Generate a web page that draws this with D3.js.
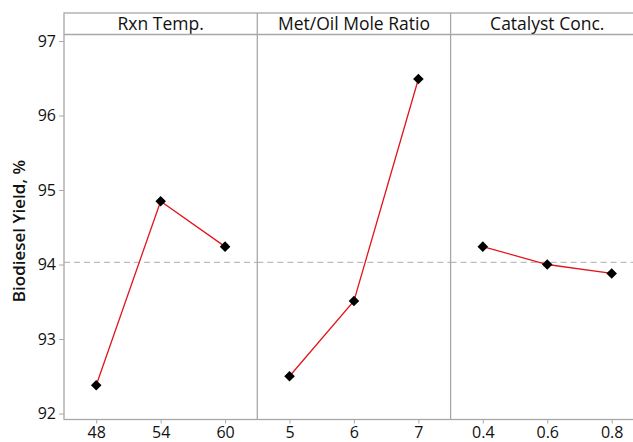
<!DOCTYPE html>
<html>
<head>
<meta charset="utf-8">
<script src="https://cdn.jsdelivr.net/npm/d3@7"></script>
<style>
  body { margin: 0; background: #fff; }
  svg { display: block; overflow: hidden; }
  text { font-family: "Open Sans", "Noto Sans", sans-serif; fill: #111; }
</style>
</head>
<body>
<svg id="chart"></svg>
<script>
const width = 633;
const height = 442;

// factors and their levels
const factors = ["Rxn Temp.", "Met/Oil Mole Ratio", "Catalyst Conc."];
const levels = [
  ["48", "54", "60"],
  ["5", "6", "7"],
  ["0.4", "0.6", "0.8"],
];
// mean biodiesel yield at each level
const yields = [
  [92.38, 94.85, 94.24],
  [92.5, 93.51, 96.49],
  [94.24, 94.0, 93.88],
];
const grandMean = 94.03;
const yTicks = [92, 93, 94, 95, 96, 97];

const margin = { top: 13, left: 64, bottom: 22.5 };
const headerH = 21.5;
const panelW = 193.3;

const svg = d3.select("#chart").attr("width", width).attr("height", height);

const plotTop = margin.top + headerH;
const plotBottom = height - margin.bottom;

const y = d3.scaleLinear().domain([91.92, 97.087]).range([plotBottom, plotTop]);

const frame = "#a8a8a8";

// y axis
const yAxis = d3
  .axisLeft(y)
  .tickValues(yTicks)
  .tickFormat(d3.format("d"))
  .tickSize(5)
  .tickPadding(3);
const yAxisG = svg
  .append("g")
  .attr("transform", `translate(${margin.left},0)`)
  .call(yAxis);
yAxisG.select(".domain").remove();
yAxisG.selectAll("line").attr("stroke", frame);
yAxisG
  .selectAll("text")
  .style("font-size", "16px")
  .style("font-family", '"Open Sans", sans-serif')
  .attr("fill", "#111");

svg
  .append("text")
  .attr("transform", `translate(25,${(plotTop + plotBottom) / 2 + 4}) rotate(-90)`)
  .attr("text-anchor", "middle")
  .style("font-size", "17px")
  .style("font-weight", "600")
  .text("Biodiesel Yield, %");

factors.forEach((name, i) => {
  const x0 = margin.left + i * panelW;
  const x = d3.scalePoint().domain(levels[i]).range([x0, x0 + panelW]).padding(0.5);
  const pts = levels[i].map((l, j) => ({ level: l, value: yields[i][j] }));

  const g = svg.append("g");

  // header text
  g.append("text")
    .attr("x", x0 + panelW / 2)
    .attr("y", margin.top + 17)
    .attr("text-anchor", "middle")
    .style("font-size", "17.5px")
    .text(name);

  // grand mean reference line
  g.append("line")
    .attr("x1", x0)
    .attr("x2", x0 + panelW)
    .attr("y1", y(grandMean))
    .attr("y2", y(grandMean))
    .attr("stroke", "#bdbdbd")
    .attr("stroke-width", 1.3)
    .attr("stroke-dasharray", "6,4");

  // x axis
  const xAxisG = g
    .append("g")
    .attr("transform", `translate(0,${plotBottom})`)
    .call(d3.axisBottom(x).tickSize(4).tickPadding(5));
  xAxisG.select(".domain").remove();
  xAxisG.selectAll("line").attr("stroke", frame);
  xAxisG
    .selectAll("text")
    .style("font-size", "16px")
    .style("font-family", '"Open Sans", sans-serif')
    .attr("dy", "0.62em")
    .attr("fill", "#111");

  g.append("path")
    .datum(pts)
    .attr("fill", "none")
    .attr("stroke", "#e3141b")
    .attr("stroke-width", 1.3)
    .attr("d", d3.line().x((d) => x(d.level)).y((d) => y(d.value)));

  g.selectAll(".pt")
    .data(pts)
    .enter()
    .append("path")
    .attr("class", "pt")
    .attr("d", d3.symbol().type(d3.symbolSquare).size(56))
    .attr("transform", (d) => `translate(${x(d.level)},${y(d.value)}) rotate(45)`)
    .attr("fill", "#000");
});

// frame: outer box, header separator, panel dividers
const frameG = svg.append("g").attr("fill", "none").attr("stroke", frame).attr("stroke-width", 1.3);
frameG
  .append("rect")
  .attr("x", margin.left)
  .attr("y", margin.top)
  .attr("width", panelW * factors.length)
  .attr("height", plotBottom - margin.top);
frameG
  .append("line")
  .attr("x1", margin.left)
  .attr("x2", margin.left + panelW * factors.length)
  .attr("y1", plotTop)
  .attr("y2", plotTop);
frameG
  .selectAll(".divider")
  .data(d3.range(1, factors.length))
  .enter()
  .append("line")
  .attr("x1", (i) => margin.left + i * panelW)
  .attr("x2", (i) => margin.left + i * panelW)
  .attr("y1", margin.top)
  .attr("y2", plotBottom);
</script>
</body>
</html>
